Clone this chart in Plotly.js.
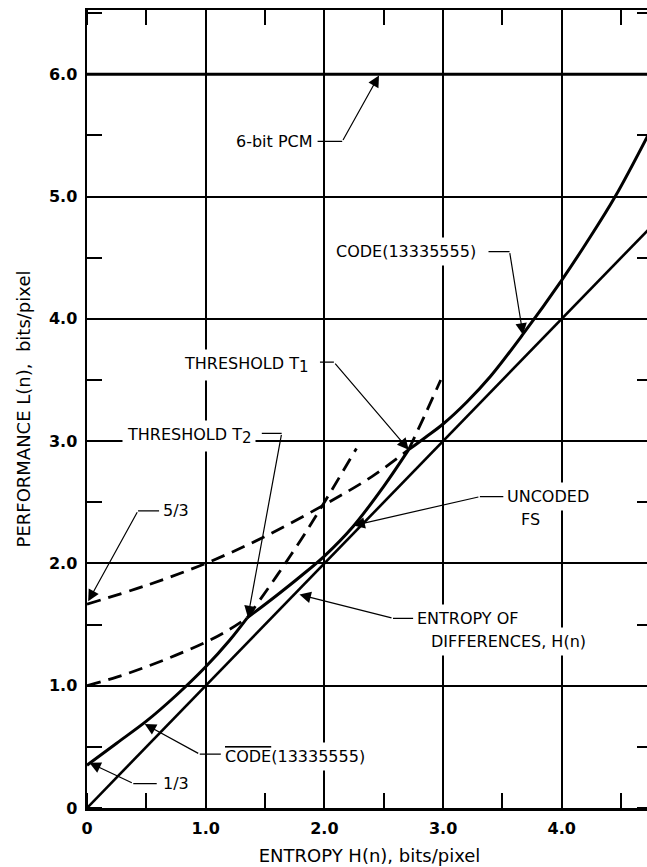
<!DOCTYPE html>
<html><head><meta charset="utf-8">
<script src="https://cdn.plot.ly/plotly-3.0.1.min.js"></script>
<style>html,body{margin:0;padding:0;overflow:hidden;background:#fff}</style>
</head><body><div id="chart"></div>
<script>
// ---- data ----
const pcmX = [0, 4.8];
const pcmY = [6.0, 6.0];
const entropyX = [0, 4.8];
const entropyY = [0, 4.8];
// CODE-bar(13335555): solid part, then dashed continuation
const codeBarX = [0, 0.25, 0.5, 0.75, 1.0, 1.2, 1.35];
const codeBarY = [0.35, 0.53, 0.71, 0.92, 1.155, 1.37, 1.555];
const codeBarDashX = [1.35, 1.6, 1.8, 2.0, 2.27];
const codeBarDashY = [1.555, 1.90, 2.19, 2.50, 2.94];
// Uncoded FS: dashed low part, solid middle, dashed high part
const fsDashLowX = [0, 0.25, 0.5, 0.75, 1.0, 1.2, 1.35];
const fsDashLowY = [1.0, 1.07, 1.155, 1.25, 1.355, 1.46, 1.555];
const fsX = [1.35, 1.6, 1.8, 2.0, 2.24, 2.5, 2.71];
const fsY = [1.555, 1.74, 1.895, 2.06, 2.30, 2.63, 2.93];
const fsDashHighX = [2.71, 2.85, 2.98];
const fsDashHighY = [2.93, 3.22, 3.50];
// CODE(13335555): dashed low part, solid high part
const codeDashX = [0, 0.5, 1.0, 1.5, 2.0, 2.4, 2.71];
const codeDashY = [1.667, 1.82, 2.0, 2.22, 2.48, 2.71, 2.93];
const codeX = [2.71, 2.85, 3.0, 3.2, 3.4, 3.67, 4.0, 4.2, 4.45, 4.8];
const codeY = [2.93, 3.03, 3.14, 3.32, 3.53, 3.87, 4.317, 4.61, 5.0, 5.64];
// ticks
const xTickVals = [0, 1, 2, 3, 4];
const xTickText = ['0', '1.0', '2.0', '3.0', '4.0'];
const yTickVals = [0, 1, 2, 3, 4, 5, 6];
const yTickText = ['0', '1.0', '2.0', '3.0', '4.0', '5.0', '6.0'];

// ---- styling ----
const FONT = 'DejaVu Sans, Liberation Sans, sans-serif';
const solid = {color: '#000', width: 3, shape: 'spline', smoothing: 1};
const dashed = {color: '#000', width: 2.8, shape: 'spline', smoothing: 1, dash: '14px,8px'};
function tr(x, y, line, name) {
  return {x: x, y: y, mode: 'lines', line: line, name: name, hoverinfo: 'skip'};
}
const traces = [
  tr(pcmX, pcmY, {color: '#000', width: 3}, '6-bit PCM'),
  tr(entropyX, entropyY, {color: '#000', width: 2.6}, 'Entropy of differences'),
  tr(codeBarX, codeBarY, solid, 'CODE-bar'),
  tr(codeBarDashX, codeBarDashY, dashed, 'CODE-bar (ext)'),
  tr(fsDashLowX, fsDashLowY, dashed, 'FS (low)'),
  tr(fsX, fsY, solid, 'Uncoded FS'),
  tr(fsDashHighX, fsDashHighY, dashed, 'FS (high)'),
  tr(codeDashX, codeDashY, dashed, 'CODE (low)'),
  tr(codeX, codeY, solid, 'CODE(13335555)')
];

const PAD = 4;
function txt(t, x, y, anchor) {
  return {text: t, x: x, y: y, xref: 'x', yref: 'y', showarrow: false,
    xanchor: anchor || 'left', yanchor: 'middle',
    xshift: anchor === 'right' ? PAD + 1 : -(PAD + 1),
    font: {family: FONT, size: 16, color: '#000'},
    bgcolor: '#fff', borderpad: PAD};
}
function lead(x, y, ax, ay, head) {
  return {text: '', x: x, y: y, ax: ax, ay: ay, xref: 'x', yref: 'y', axref: 'x', ayref: 'y',
    showarrow: true, arrowhead: head ? 2 : 0, arrowsize: 1.9, arrowwidth: 1.2,
    arrowcolor: '#000', standoff: 0, startstandoff: 0};
}
const SUB1 = '<sub><span style="font-size:15px">1</span></sub>';
const SUB2 = '<sub><span style="font-size:15px">2</span></sub>';
const annotations = [
  txt('6-bit PCM', 1.90, 5.45, 'right'),
  lead(2.15, 5.45, 1.93, 5.45, false),
  lead(2.46, 5.99, 2.15, 5.45, true),

  txt('CODE(13335555)', 2.10, 4.55),
  lead(3.56, 4.55, 3.37, 4.55, false),
  lead(3.673, 3.87, 3.56, 4.55, true),

  txt('THRESHOLD T' + SUB1, 0.815, 3.62),
  lead(2.08, 3.645, 1.95, 3.645, false),
  lead(2.71, 2.93, 2.08, 3.645, true),

  txt('THRESHOLD T' + SUB2, 0.335, 3.04),
  lead(1.64, 3.064, 1.46, 3.064, false),
  lead(1.355, 1.56, 1.64, 3.064, true),

  txt('5/3', 0.64, 2.43),
  lead(0.43, 2.43, 0.62, 2.43, false),
  lead(0.01, 1.69, 0.43, 2.43, true),

  txt('UNCODED', 3.54, 2.55),
  txt('FS', 3.66, 2.36),
  lead(3.31, 2.546, 3.52, 2.546, false),
  lead(2.245, 2.31, 3.31, 2.546, true),

  txt('ENTROPY OF', 2.78, 1.55),
  txt('DIFFERENCES, H(n)', 2.90, 1.36),
  lead(2.578, 1.551, 2.76, 1.551, false),
  lead(1.79, 1.745, 2.578, 1.551, true),

  txt('<span style="text-decoration:overline">CODE</span>(13335555)', 1.16, 0.424),
  lead(0.95, 0.44, 1.14, 0.44, false),
  lead(0.486, 0.687, 0.95, 0.44, true),

  txt('1/3', 0.64, 0.20),
  lead(0.39, 0.20, 0.60, 0.20, false),
  lead(0.02, 0.37, 0.39, 0.20, true)
];

const axisCommon = {
  showline: true, linecolor: '#000', linewidth: 2.5, mirror: 'ticks',
  showgrid: true, gridcolor: '#000', gridwidth: 2, zeroline: false,
  ticks: '', tickmode: 'array', ticklabelstandoff: 4,
  tickfont: {family: FONT, size: 16, color: '#000', weight: 'bold'},
  minor: {dtick: 0.5, tick0: 0, ticks: 'inside', ticklen: 15, tickwidth: 2, tickcolor: '#000', showgrid: false},
  fixedrange: true
};
const layout = {
  width: 652, height: 867,
  margin: {l: 87, r: 0, t: 10, b: 59},
  paper_bgcolor: '#fff', plot_bgcolor: '#fff',
  showlegend: false, hovermode: false,
  xaxis: Object.assign({}, axisCommon, {
    range: [0, 4.76], tickvals: xTickVals, ticktext: xTickText,
    title: {text: 'ENTROPY H(n), bits/pixel', standoff: 13, font: {family: FONT, size: 18, color: '#000'}}
  }),
  yaxis: Object.assign({}, axisCommon, {
    range: [0, 6.525], tickvals: yTickVals, ticktext: yTickText,
    title: {text: 'PERFORMANCE L(n),  bits/pixel', standoff: 14, font: {family: FONT, size: 18, color: '#000'}}
  }),
  annotations: annotations
};
Plotly.newPlot('chart', traces, layout, {staticPlot: true, displayModeBar: false});
</script>
</body></html>
